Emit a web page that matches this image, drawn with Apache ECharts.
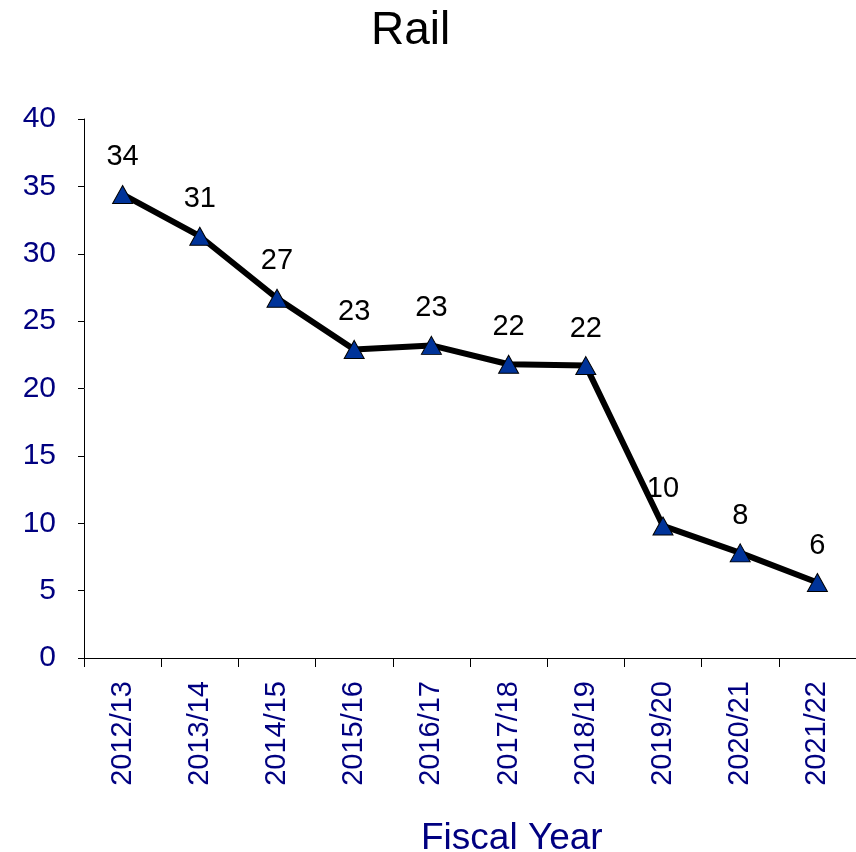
<!DOCTYPE html>
<html>
<head>
<meta charset="utf-8">
<script src="https://cdn.jsdelivr.net/npm/echarts@6/dist/echarts.min.js"></script>
<style>html,body{margin:0;padding:0;background:#fff}#c{width:856px;height:852px}</style>
</head>
<body>
<div id="c"></div>
<script>
const categories = ['2012/13','2013/14','2014/15','2015/16','2016/17','2017/18','2018/19','2019/20','2020/21','2021/22'];
const values = [34.4, 31.3, 26.7, 22.9, 23.2, 21.8, 21.7, 9.8, 7.8, 5.6];
const yTicks = [0, 5, 10, 15, 20, 25, 30, 35, 40];
const titleText = 'Rail';
const xName = 'Fiscal Year';

const navy = '#000080';
const FONT = 'Liberation Sans, Arial, sans-serif';
const chart = echarts.init(document.getElementById('c'), null, {renderer: 'canvas'});
chart.setOption({
  animation: false,
  backgroundColor: '#fff',
  title: [
    {text: titleText, left: 371, top: 8, padding: 0,
     textStyle: {fontFamily: FONT, fontSize: 46, fontWeight: 'normal', color: '#000'}},
    {text: xName, left: 421, top: 820, padding: 0,
     textStyle: {fontFamily: FONT, fontSize: 37, fontWeight: 'normal', color: navy}}
  ],
  grid: {left: 84, right: 0, top: 119, bottom: 194, containLabel: false},
  xAxis: {
    type: 'category', data: categories, boundaryGap: true,
    axisLine: {lineStyle: {color: '#000', width: 1}},
    axisTick: {show: true, length: 9, lineStyle: {color: '#000'}},
    axisLabel: {rotate: 90, margin: 23, color: navy, fontFamily: FONT, fontSize: 29, interval: 0}
  },
  yAxis: {
    type: 'value', min: yTicks[0], max: yTicks[yTicks.length - 1], interval: 5,
    splitLine: {show: false},
    axisLine: {show: true, lineStyle: {color: '#000', width: 1}},
    axisTick: {show: true, length: 6, lineStyle: {color: '#000'}},
    axisLabel: {margin: 28, color: navy, fontFamily: FONT, fontSize: 30}
  },
  series: [{
    type: 'line', data: values,
    lineStyle: {color: '#000', width: 6},
    symbol: 'triangle', symbolSize: [20, 18],
    itemStyle: {color: '#003399', borderColor: '#000', borderWidth: 1},
    label: {show: true, position: 'top', distance: 13, color: '#000', fontFamily: FONT, fontSize: 29,
            formatter: p => Math.round(p.value)}
  }]
});
</script>
</body>
</html>
